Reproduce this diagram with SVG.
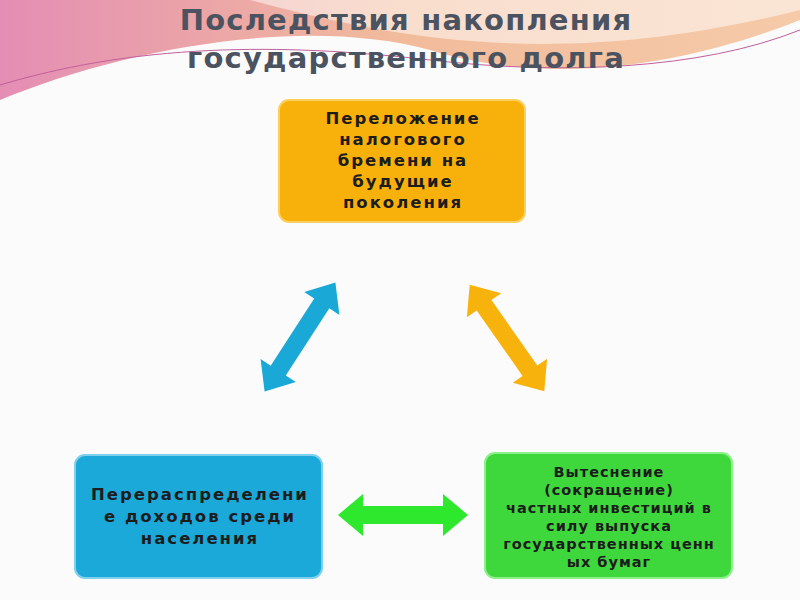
<svg xmlns="http://www.w3.org/2000/svg" width="800" height="600" viewBox="0 0 800 600">
<defs>
<style>
.t{font-family:"DejaVu Sans",sans-serif;font-weight:bold;font-size:16.5px;letter-spacing:2px;fill:#1c1c1c;text-anchor:middle}
.s{font-size:14.5px;letter-spacing:1px}
.title{font-family:"DejaVu Sans",sans-serif;font-weight:bold;font-size:29px;letter-spacing:1.2px;fill:#4b5260;text-anchor:middle}
</style>
<linearGradient id="bg1" x1="0" y1="0" x2="1" y2="0"><stop offset="0" stop-color="#e07aa8"/><stop offset="0.5" stop-color="#f0b08a"/><stop offset="1" stop-color="#f4c29a"/></linearGradient>
<polygon id="da" points="-65,0 -40,-21 -40,-9 40,-9 40,-21 65,0 40,21 40,9 -40,9 -40,21"/>
</defs>
<rect width="800" height="600" fill="#fbfbfb"/>
<path d="M0,0 H800 V20 C700,60 560,90 430,50 C300,15 120,50 0,100 Z" fill="url(#bg1)" opacity="0.85"/>
<path d="M250,0 C400,40 560,70 800,10 V0 Z" fill="#fff" opacity="0.5"/>
<path d="M0,85 C150,40 300,45 430,60 C560,75 700,70 800,30" fill="none" stroke="#c0609a" stroke-width="1"/>
<text class="title" x="406" y="30">Последствия накопления</text>
<text class="title" x="406" y="68">государственного долга</text>
<g id="connectors">
<use href="#da" transform="translate(300,337) rotate(-57)" fill="#1aa8d6"/>
<use href="#da" transform="translate(507,338) rotate(55)" fill="#f8b20c"/>
<use href="#da" transform="translate(403,515)" fill="#2ee82e"/>
</g>
<g id="top">
<rect x="279" y="100" width="246" height="122" rx="10" fill="#f8b00a" stroke="#fcd060" stroke-width="2"/>
<text class="t" x="403" y="124">Переложение</text>
<text class="t" x="403" y="145">налогового</text>
<text class="t" x="403" y="166">бремени на</text>
<text class="t" x="403" y="187">будущие</text>
<text class="t" x="403" y="208">поколения</text>
</g>
<g id="left">
<rect x="75" y="455" width="247" height="123" rx="10" fill="#1ba9d9" stroke="#7fd0ee" stroke-width="2"/>
<text class="t" x="200" y="500">Перераспределени</text>
<text class="t" x="200" y="522">е доходов среди</text>
<text class="t" x="200" y="544">населения</text>
</g>
<g id="right">
<rect x="485" y="453" width="247" height="125" rx="10" fill="#3ed83c" stroke="#8ef08a" stroke-width="2"/>
<text class="t s" x="609" y="477">Вытеснение</text>
<text class="t s" x="609" y="495">(сокращение)</text>
<text class="t s" x="609" y="513">частных инвестиций в</text>
<text class="t s" x="609" y="531">силу выпуска</text>
<text class="t s" x="609" y="549">государственных ценн</text>
<text class="t s" x="609" y="567">ых бумаг</text>
</g>
</svg>
